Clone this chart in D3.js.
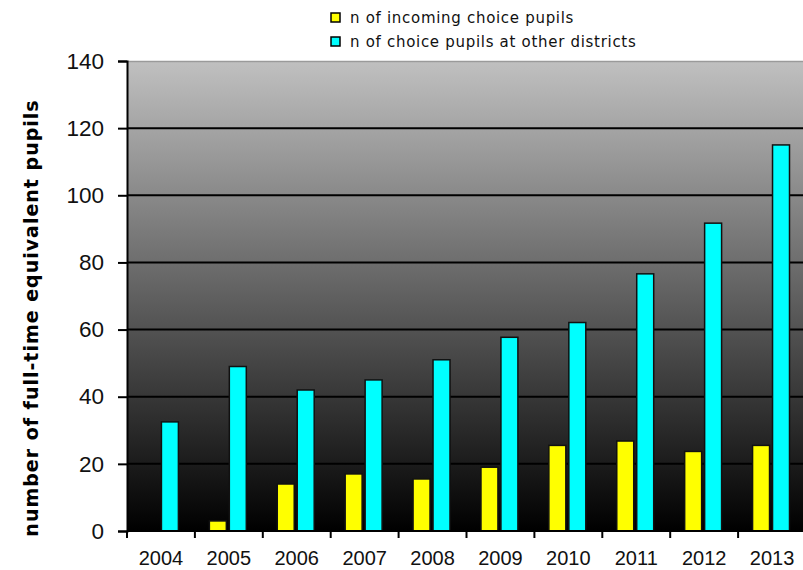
<!DOCTYPE html>
<html>
<head>
<meta charset="utf-8">
<script src="https://cdn.jsdelivr.net/npm/d3@7"></script>
<style>
  body { margin: 0; background: white; }
  svg { display: block; }
  .tick-label { font-family: "Liberation Sans", Arial, sans-serif; font-size: 20px; fill: #111; }
  .y-label { font-size: 22.5px; }
  .legend-text { font-family: "DejaVu Sans", Verdana, sans-serif; font-size: 15px; letter-spacing: 0.7px; fill: #111; }
  .axis-title { font-family: "DejaVu Sans", Verdana, sans-serif; font-size: 19px; letter-spacing: 1px; font-weight: bold; fill: #000; }
</style>
</head>
<body>
<svg width="803" height="570"></svg>
<script>
const years = ['2004', '2005', '2006', '2007', '2008', '2009', '2010', '2011', '2012', '2013'];
const incomingPupils = [0, 3, 14, 17, 15.5, 19, 25.5, 26.8, 23.7, 25.5];
const otherDistrictPupils = [32.5, 49, 42, 45, 51, 57.7, 62.1, 76.6, 91.7, 115];
const seriesNames = ['n of incoming choice pupils', 'n of choice pupils at other districts'];
const seriesColors = ['#ffff00', '#00ffff'];
const yTicks = [0, 20, 40, 60, 80, 100, 120, 140];

const svg = d3.select('svg');
const margin = { left: 127, top: 61 };
const innerWidth = 679; // plot runs slightly past the right edge, as in the original
const innerHeight = 470;

const data = years.map((year, i) => ({
    year: year,
    values: [incomingPupils[i], otherDistrictPupils[i]],
}));

const xScale = d3.scaleBand()
      .domain(years)
      .range([0, innerWidth])
      .padding(0);

const bw = xScale.bandwidth();
const seriesScale = d3.scaleBand()
      .domain([0, 1])
      .range([bw * 0.213, bw * 0.757])
      .paddingInner(0.15);

const yScale = d3.scaleLinear()
      .domain([0, 140])
      .range([innerHeight, 0]);

// gradient background of plot area
const defs = svg.append('defs');
const grad = defs.append('linearGradient')
      .attr('id', 'bg')
      .attr('x1', 0).attr('y1', 0).attr('x2', 0).attr('y2', 1);
grad.append('stop').attr('offset', '0%').attr('stop-color', '#c0c0c0');
grad.append('stop').attr('offset', '100%').attr('stop-color', '#000000');

const g = svg.append('g')
      .attr('transform', `translate(${margin.left}, ${margin.top})`);

g.append('rect')
    .attr('width', innerWidth)
    .attr('height', innerHeight)
    .attr('fill', 'url(#bg)');

// top border of plot
g.append('line')
    .attr('x1', 0).attr('x2', innerWidth)
    .attr('y1', 0.5).attr('y2', 0.5)
    .attr('stroke', '#9a9a9a')
    .attr('stroke-width', 1.5);

// gridlines
g.selectAll('.grid').data(yTicks.filter(t => t > 0 && t < 140))
    .enter().append('line')
    .attr('class', 'grid')
    .attr('x1', 0).attr('x2', innerWidth)
    .attr('y1', d => yScale(d)).attr('y2', d => yScale(d))
    .attr('stroke', '#000')
    .attr('stroke-width', 2);

// y axis
const yAxis = d3.axisLeft(yScale)
      .tickValues(yTicks)
      .tickSize(9)
      .tickPadding(14);
const yAxisGroup = g.append('g').call(yAxis);
yAxisGroup.select('.domain').attr('stroke', '#000').attr('stroke-width', 2);
yAxisGroup.selectAll('.tick line').attr('stroke', '#000').attr('stroke-width', 2);
yAxisGroup.selectAll('.tick text')
    .attr('class', 'tick-label y-label')
    .attr('font-family', null).attr('font-size', null);

// x axis
const xAxis = d3.axisBottom(xScale)
      .tickSize(0)
      .tickPadding(20);
const xAxisGroup = g.append('g')
      .attr('transform', `translate(0, ${innerHeight})`)
      .call(xAxis);
xAxisGroup.select('.domain').remove();
xAxisGroup.selectAll('.tick text')
    .attr('class', 'tick-label')
    .attr('font-family', null).attr('font-size', null);

// bars
const groups = g.selectAll('.year').data(data)
    .enter().append('g')
    .attr('class', 'year')
    .attr('transform', d => `translate(${xScale(d.year)}, 0)`);

groups.selectAll('rect')
    .data(d => d.values.map((v, i) => ({ v: v, i: i })).filter(e => e.v > 0))
    .enter().append('rect')
    .attr('x', d => seriesScale(d.i))
    .attr('width', seriesScale.bandwidth())
    .attr('y', d => yScale(d.v))
    .attr('height', d => innerHeight - yScale(d.v))
    .attr('fill', d => seriesColors[d.i])
    .attr('stroke', '#111')
    .attr('stroke-width', 1.5);

// x axis line and category separator ticks
g.append('line')
    .attr('x1', 0).attr('x2', innerWidth)
    .attr('y1', innerHeight).attr('y2', innerHeight)
    .attr('stroke', '#000').attr('stroke-width', 2);
g.selectAll('.xsep').data(years)
    .enter().append('line')
    .attr('class', 'xsep')
    .attr('x1', d => xScale(d)).attr('x2', d => xScale(d))
    .attr('y1', innerHeight).attr('y2', innerHeight + 7)
    .attr('stroke', '#000').attr('stroke-width', 2);

// y axis title
svg.append('text')
    .attr('class', 'axis-title')
    .attr('transform', 'translate(38, 318) rotate(-90)')
    .attr('text-anchor', 'middle')
    .text('number of full-time equivalent pupils');

// legend
const legend = svg.append('g').attr('transform', 'translate(331, 13)');
const legendRows = legend.selectAll('g').data(seriesNames)
    .enter().append('g')
    .attr('transform', (d, i) => `translate(0, ${i * 24})`);
legendRows.append('rect')
    .attr('width', 9).attr('height', 9)
    .attr('fill', (d, i) => seriesColors[i])
    .attr('stroke', '#000').attr('stroke-width', 1.5);
legendRows.append('text')
    .attr('class', 'legend-text')
    .attr('x', 19).attr('y', 10)
    .text(d => d);
</script>
</body>
</html>
